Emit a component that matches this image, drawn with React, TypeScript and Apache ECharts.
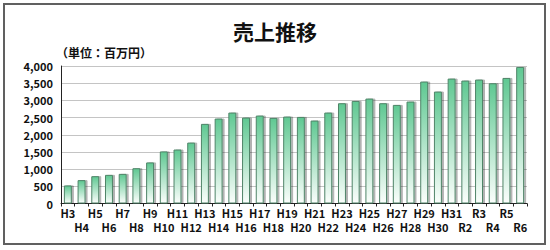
import React, { useEffect, useRef } from "react";
import * as echarts from "echarts";

const categories = [
  "H3", "H4", "H5", "H6", "H7", "H8", "H9", "H10", "H11", "H12",
  "H13", "H14", "H15", "H16", "H17", "H18", "H19", "H20", "H21", "H22",
  "H23", "H24", "H25", "H26", "H27", "H28", "H29", "H30", "H31",
  "R2", "R3", "R4", "R5", "R6",
];
const sales = [
  525, 680, 795, 833, 862, 1026, 1195, 1515, 1570, 1772,
  2316, 2471, 2645, 2500, 2558, 2490, 2529, 2519, 2413, 2645,
  2917, 2984, 3052, 2917, 2868, 2965, 3547, 3256, 3634,
  3576, 3605, 3498, 3653, 3973,
];
const titleText = "売上推移";
const unitText = "（単位：百万円）";

const FONT = '"Noto Sans CJK JP", "Noto Sans", sans-serif';

export default function App() {
  const ref = useRef<HTMLDivElement>(null);
  useEffect(() => {
    if (!ref.current) return;
    const chart = echarts.init(ref.current, undefined, { renderer: "svg" });
    chart.setOption({
      animation: false,
      backgroundColor: "#ffffff",
      title: {
        text: titleText,
        left: "center",
        top: 15,
        textStyle: { fontFamily: FONT, fontSize: 21, fontWeight: "bold", color: "#111" },
      },
      graphic: [
        {
          type: "rect",
          shape: { x: 4, y: 4, width: 541, height: 240 },
          style: { fill: "none", stroke: "#606060", lineWidth: 2 },
          silent: true,
        },
        {
          type: "text",
          left: 56,
          top: 46,
          style: {
            text: unitText,
            fontFamily: FONT,
            fontSize: 12,
            fontWeight: "bold",
            fill: "#111",
          },
        },
      ],
      grid: { left: 61, right: 23, top: 66, bottom: 46.5 },
      xAxis: {
        type: "category",
        data: categories,
        axisLine: { show: true, lineStyle: { color: "#222", width: 1 } },
        axisTick: { show: true, length: 3, lineStyle: { color: "#222" } },
        axisLabel: {
          interval: 0,
          margin: 2,
          fontFamily: FONT,
          fontSize: 11,
          fontWeight: "bold",
          color: "#111",
          lineHeight: 14,
          formatter: (v: string, i: number) => (i % 2 === 0 ? v : "\n" + v),
        },
      },
      yAxis: {
        type: "value",
        min: 0,
        max: 4000,
        interval: 500,
        axisLine: { show: true, lineStyle: { color: "#222", width: 1 } },
        axisTick: { show: false },
        axisLabel: {
          margin: 8,
          fontFamily: FONT,
          fontSize: 11,
          fontWeight: "bold",
          color: "#111",
          formatter: (v: number) => v.toLocaleString("en-US"),
        },
        splitLine: { show: true, lineStyle: { color: "#c4c4c4", width: 1 } },
      },
      series: [
        {
          type: "bar",
          data: sales,
          barWidth: "58%",
          itemStyle: {
            color: new echarts.graphic.LinearGradient(0, 0, 0, 1, [
              { offset: 0, color: "#5fc892" },
              { offset: 1, color: "#fbfefc" },
            ]),
            borderColor: "#4f8468",
            borderWidth: 1,
            shadowColor: "rgba(0,0,0,0.3)",
            shadowOffsetX: 2,
            shadowOffsetY: 0,
            shadowBlur: 1,
          },
        },
      ],
    });
    return () => chart.dispose();
  }, []);
  return (
    <div
      ref={ref}
      style={{ position: "absolute", left: 0, top: 0, width: 550, height: 250 }}
    />
  );
}
